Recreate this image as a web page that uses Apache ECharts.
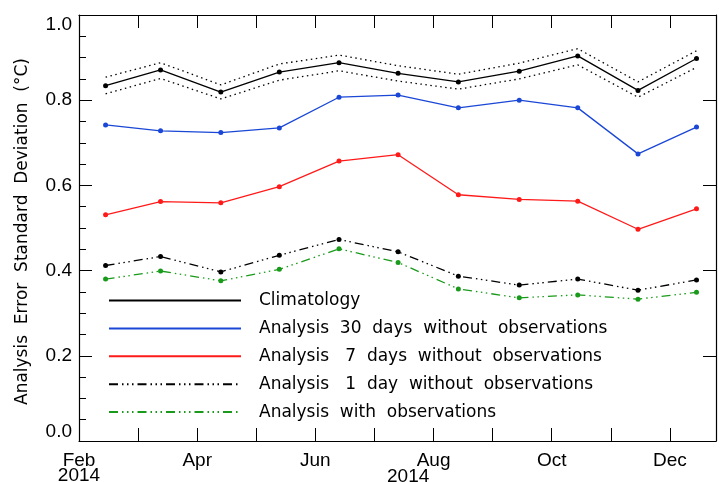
<!DOCTYPE html>
<html>
<head>
<meta charset="utf-8">
<script src="https://cdn.jsdelivr.net/npm/echarts@6/dist/echarts.min.js"></script>
<style>
  html, body { margin: 0; padding: 0; background: #fff; }
  #main { width: 720px; height: 482px; }
</style>
</head>
<body>
<div id="main"></div>
<script>
// x in months since 1 Feb 2014
var xPos = [0.45, 1.38, 2.40, 3.39, 4.40, 5.40, 6.42, 7.45, 8.44, 9.46, 10.45];
var monthNames = ['Feb', 'Mar', 'Apr', 'May', 'Jun', 'Jul', 'Aug', 'Sep', 'Oct', 'Nov', 'Dec'];

var climatology = [0.834, 0.871, 0.819, 0.866, 0.888, 0.863, 0.843, 0.868, 0.904, 0.823, 0.898];
var climUpper   = [0.854, 0.888, 0.836, 0.885, 0.906, 0.881, 0.861, 0.887, 0.921, 0.843, 0.916];
var climLower   = [0.815, 0.851, 0.803, 0.847, 0.869, 0.845, 0.826, 0.850, 0.883, 0.807, 0.877];
var noObs30     = [0.742, 0.728, 0.724, 0.735, 0.807, 0.812, 0.782, 0.800, 0.782, 0.674, 0.737];
var noObs7      = [0.531, 0.562, 0.559, 0.597, 0.657, 0.672, 0.578, 0.567, 0.563, 0.497, 0.545];
var noObs1      = [0.412, 0.433, 0.397, 0.436, 0.473, 0.444, 0.387, 0.366, 0.380, 0.354, 0.378];
var withObs     = [0.380, 0.399, 0.376, 0.403, 0.451, 0.419, 0.357, 0.336, 0.343, 0.333, 0.349];

var names = [
    'Climatology',
    'Analysis  30  days  without  observations',
    'Analysis   7  days  without  observations',
    'Analysis   1  day  without  observations',
    'Analysis  with  observations'
];

function pairs(vals) {
    return vals.map(function (v, i) { return [xPos[i], v]; });
}

var chart = echarts.init(document.getElementById('main'));

var dashDot3 = [9, 4, 1.5, 3.5, 1.5, 3.5, 1.5, 4];

function lineSeries(name, vals, color, dash, withSymbol) {
    return {
        name: name,
        type: 'line',
        data: pairs(vals),
        symbol: withSymbol ? 'circle' : 'none',
        symbolSize: 5,
        showSymbol: withSymbol,
        itemStyle: { color: color },
        lineStyle: { color: color, width: 1.3, type: dash },
        emphasis: { disabled: true },
        z: 3
    };
}

var option = {
    animation: false,
    grid: { left: 79, right: 4, top: 15, bottom: 41, containLabel: false, outerBoundsMode: 'none' },
    legend: {
        orient: 'vertical',
        left: 108,
        top: 292,
        padding: 0,
        itemWidth: 132,
        itemHeight: 16,
        itemGap: 10.9,
        itemStyle: { opacity: 0 },
        textStyle: { fontFamily: 'DejaVu Sans', fontSize: 17, lineHeight: 16, color: '#000', padding: [0, 0, 0, 13] },
        data: names
    },
    xAxis: [{
        type: 'value',
        min: 0,
        max: 10.78,
        interval: 1,
        position: 'bottom',
        axisLine: { onZero: false, lineStyle: { color: '#000', width: 1.2 } },
        axisTick: { inside: true, length: 13, lineStyle: { color: '#000' } },
        splitLine: { show: false },
        axisLabel: {
            fontFamily: 'Liberation Sans',
            fontSize: 19,
            color: '#000',
            margin: 12,
            lineHeight: 15,
            showMaxLabel: false,
            formatter: function (v) {
                var i = Math.round(v);
                if (i % 2 !== 0) return '';
                if (i === 0) return monthNames[i] + '\n2014';
                return monthNames[i];
            }
        }
    }, {
        type: 'value',
        min: 0,
        max: 10.78,
        interval: 1,
        position: 'top',
        axisLine: { onZero: false, lineStyle: { color: '#000', width: 1.2 } },
        axisTick: { inside: false, length: -13, lineStyle: { color: '#000' } },
        axisLabel: { show: false },
        splitLine: { show: false }
    }],
    yAxis: [{
        type: 'value',
        min: 0,
        max: 1,
        interval: 0.2,
        position: 'left',
        name: 'Analysis  Error  Standard  Deviation  (°C)',
        nameLocation: 'middle',
        nameGap: 48,
        nameTextStyle: { fontFamily: 'DejaVu Sans', fontSize: 17, color: '#000', padding: [0, 7, 0, 0] },
        axisLine: { onZero: false, lineStyle: { color: '#000', width: 1.2 } },
        axisTick: { inside: true, length: 13, lineStyle: { color: '#000' } },
        minorTick: { show: true, splitNumber: 4, length: 7, lineStyle: { color: '#000' } },
        splitLine: { show: false },
        minorSplitLine: { show: false },
        axisLabel: {
            fontFamily: 'Liberation Sans',
            fontSize: 19,
            color: '#000',
            margin: 7,
            formatter: function (v) { return v.toFixed(1); },
            verticalAlignMinLabel: 'bottom',
            verticalAlignMaxLabel: 'top'
        }
    }, {
        type: 'value',
        min: 0,
        max: 1,
        interval: 0.2,
        position: 'right',
        axisLine: { show: true, onZero: false, lineStyle: { color: '#000', width: 1.2 } },
        axisTick: { inside: false, length: -13, lineStyle: { color: '#000' } },
        axisLabel: { show: false },
        splitLine: { show: false }
    }],
    graphic: [{
        type: 'text',
        left: 387,
        top: 467,
        style: { text: '2014', font: '19px "Liberation Sans"', fill: '#000' }
    }],
    series: [
        lineSeries(names[0], climatology, '#000000', 'solid', true),
        lineSeries('upper', climUpper, '#000000', [1.5, 3.5], false),
        lineSeries('lower', climLower, '#000000', [1.5, 3.5], false),
        lineSeries(names[1], noObs30, '#1a47d6', 'solid', true),
        lineSeries(names[2], noObs7, '#ff1a1a', 'solid', true),
        lineSeries(names[3], noObs1, '#000000', dashDot3, true),
        lineSeries(names[4], withObs, '#1a9a1a', dashDot3, true)
    ]
};

chart.setOption(option);
</script>
</body>
</html>
